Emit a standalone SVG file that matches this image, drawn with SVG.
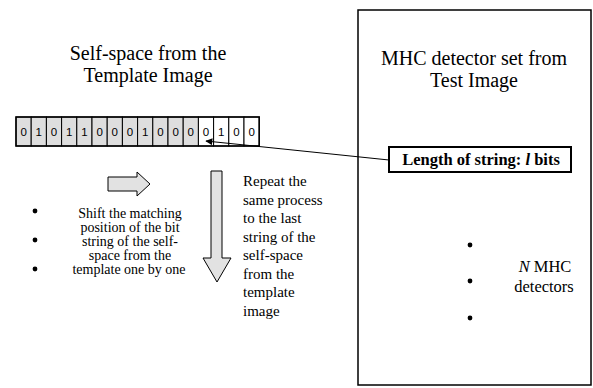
<svg xmlns="http://www.w3.org/2000/svg" width="593" height="388" viewBox="0 0 593 388">
<defs>
<style>
.serif{font-family:"Liberation Serif","Times New Roman",serif;fill:#000}
.title{font-size:20px;text-anchor:middle}
.body{font-size:15px}
.small{font-size:14px;text-anchor:middle}
.bit{font-family:"Liberation Sans",Arial,sans-serif;font-size:11.5px;text-anchor:middle;fill:#000}
.cell{stroke:#000;stroke-width:1}
.shade{fill:#dedede}
.plain{fill:#fff}
.blk{fill:#e2e2e2;stroke:#000;stroke-width:1}
</style>
<marker id="ah" viewBox="0 0 10 10" refX="9" refY="5" markerWidth="9" markerHeight="7" markerUnits="userSpaceOnUse" orient="auto">
<path d="M0,0 L10,5 L0,10 z" fill="#000"/>
</marker>
</defs>
<rect width="593" height="388" fill="#fff"/>

<g id="left-title">
<text class="serif title" x="148" y="60">Self-space from the</text>
<text class="serif title" x="148" y="82">Template Image</text>
</g>

<g id="bitstring">
<rect class="cell shade" x="16" y="117" width="15.2" height="29"/>
<rect class="cell shade" x="31.2" y="117" width="15.2" height="29"/>
<rect class="cell shade" x="46.4" y="117" width="15.2" height="29"/>
<rect class="cell shade" x="61.6" y="117" width="15.2" height="29"/>
<rect class="cell shade" x="76.8" y="117" width="15.2" height="29"/>
<rect class="cell shade" x="92" y="117" width="15.2" height="29"/>
<rect class="cell shade" x="107.2" y="117" width="15.2" height="29"/>
<rect class="cell shade" x="122.4" y="117" width="15.2" height="29"/>
<rect class="cell shade" x="137.6" y="117" width="15.2" height="29"/>
<rect class="cell shade" x="152.8" y="117" width="15.2" height="29"/>
<rect class="cell shade" x="168" y="117" width="15.2" height="29"/>
<rect class="cell shade" x="183.2" y="117" width="15.2" height="29"/>
<rect class="cell plain" x="198.4" y="117" width="15.2" height="29"/>
<rect class="cell plain" x="213.6" y="117" width="15.2" height="29"/>
<rect class="cell plain" x="228.8" y="117" width="15.2" height="29"/>
<rect class="cell plain" x="244" y="117" width="15.2" height="29"/>
<rect x="16" y="117" width="243.2" height="29" fill="none" stroke="#000" stroke-width="1.5"/>
<text class="bit" x="23.6" y="136">0</text>
<text class="bit" x="38.8" y="136">1</text>
<text class="bit" x="54" y="136">0</text>
<text class="bit" x="69.2" y="136">1</text>
<text class="bit" x="84.4" y="136">1</text>
<text class="bit" x="99.6" y="136">0</text>
<text class="bit" x="114.8" y="136">0</text>
<text class="bit" x="130" y="136">0</text>
<text class="bit" x="145.2" y="136">1</text>
<text class="bit" x="160.4" y="136">0</text>
<text class="bit" x="175.6" y="136">0</text>
<text class="bit" x="190.8" y="136">0</text>
<text class="bit" x="206" y="136">0</text>
<text class="bit" x="221.2" y="136">1</text>
<text class="bit" x="236.4" y="136">0</text>
<text class="bit" x="251.6" y="136">0</text>
</g>

<g id="right-arrow">
<path class="blk" d="M108,177 L137,177 L137,172 L150,184 L137,196 L137,191 L108,191 Z"/>
</g>

<g id="down-arrow">
<path class="blk" d="M211,171 L222,171 L222,258 L231,258 L217,282 L203,258 L211,258 Z"/>
</g>

<g id="shift-text">
<circle cx="35" cy="211" r="2.4" fill="#000"/>
<circle cx="35" cy="240" r="2.4" fill="#000"/>
<circle cx="35" cy="269" r="2.4" fill="#000"/>
<text class="serif small" x="130" y="218">Shift the matching</text>
<text class="serif small" x="130" y="232">position of the bit</text>
<text class="serif small" x="130" y="246">string of the self-</text>
<text class="serif small" x="130" y="260">space from the</text>
<text class="serif small" x="129" y="274">template one by one</text>
</g>

<g id="repeat-text">
<text class="serif body" x="243" y="186">Repeat the</text>
<text class="serif body" x="243" y="204.5">same process</text>
<text class="serif body" x="243" y="223">to the last</text>
<text class="serif body" x="243" y="241.5">string of the</text>
<text class="serif body" x="243" y="260">self-space</text>
<text class="serif body" x="243" y="278.5">from the</text>
<text class="serif body" x="243" y="297">template</text>
<text class="serif body" x="243" y="315.5">image</text>
</g>

<g id="mhc-box">
<rect x="358" y="10" width="233" height="375" fill="none" stroke="#000" stroke-width="1.5"/>
<text class="serif title" x="474" y="65">MHC detector set from</text>
<text class="serif title" x="474" y="87">Test Image</text>
<circle cx="470" cy="245" r="2.4" fill="#000"/>
<circle cx="470" cy="281" r="2.4" fill="#000"/>
<circle cx="470" cy="318" r="2.4" fill="#000"/>
<text class="serif" font-size="16.5" text-anchor="middle" x="545" y="272"><tspan font-style="italic">N</tspan> MHC</text>
<text class="serif" font-size="16.5" text-anchor="middle" x="544" y="292">detectors</text>
</g>

<g id="length-box">
<rect x="389" y="147" width="182" height="25" fill="#fff" stroke="#000" stroke-width="2"/>
<text class="serif" font-size="16.5" font-weight="bold" text-anchor="middle" x="481" y="165">Length of string: <tspan font-style="italic">l</tspan> bits</text>
</g>

<g id="connectors">
<line x1="389" y1="160" x2="206" y2="141" stroke="#000" stroke-width="1" marker-end="url(#ah)"/>
</g>
</svg>
